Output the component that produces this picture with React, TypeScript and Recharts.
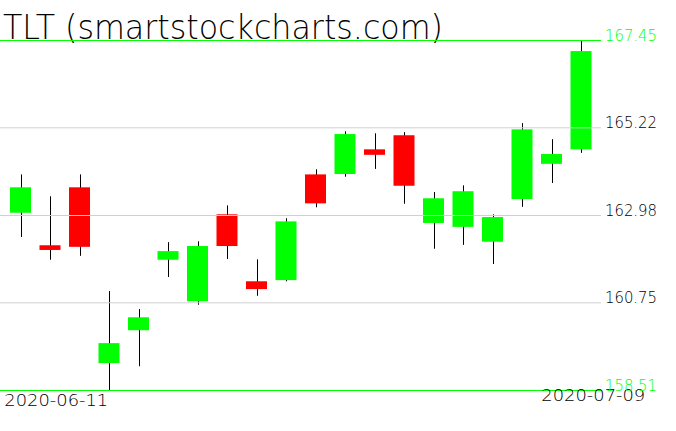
import { ComposedChart, Bar, XAxis, YAxis, ReferenceLine } from 'recharts';

// TLT daily candles, 2020-06-11 .. 2020-07-09
const dates = [
  '2020-06-11', '2020-06-12', '2020-06-15', '2020-06-16', '2020-06-17',
  '2020-06-18', '2020-06-19', '2020-06-22', '2020-06-23', '2020-06-24',
  '2020-06-25', '2020-06-26', '2020-06-29', '2020-06-30', '2020-07-01',
  '2020-07-02', '2020-07-06', '2020-07-07', '2020-07-08', '2020-07-09',
];
const opens = [163.05, 162.22, 163.70, 159.21, 160.05, 161.85, 160.79, 163.01, 161.30, 161.33,
  164.03, 164.04, 164.67, 165.03, 162.79, 162.69, 162.31, 163.40, 164.30, 164.67];
const highs = [164.03, 163.47, 164.03, 161.05, 160.59, 162.30, 162.32, 163.24, 161.86, 162.91,
  164.16, 165.13, 165.08, 165.11, 163.58, 163.75, 163.01, 165.34, 164.93, 167.45];
const lows = [162.43, 161.85, 161.95, 158.51, 159.13, 161.41, 160.70, 161.87, 160.93, 161.30,
  163.19, 163.97, 164.17, 163.28, 162.13, 162.23, 161.74, 163.20, 163.81, 164.58];
const closes = [163.70, 162.10, 162.18, 159.72, 160.38, 162.07, 162.20, 162.20, 161.10, 162.83,
  163.29, 165.06, 164.53, 163.74, 163.42, 163.60, 162.94, 165.18, 164.55, 167.18];

const yTicks = [158.51, 160.75, 162.98, 165.22, 167.45];
const gridLevels = [160.75, 162.98, 165.22];

const data = dates.map((d, i) => ({
  date: d,
  open: opens[i],
  high: highs[i],
  low: lows[i],
  close: closes[i],
  range: [lows[i], highs[i]],
}));

const FONT = '"DejaVu Sans", sans-serif';
const GREEN = '#00ff00';
const RED = '#ff0000';

const Candle = (props: any) => {
  const { x, y, width, height, payload } = props;
  const top = Math.min(y, y + height);
  const h = Math.abs(height);
  const { open, high, low, close } = payload;
  const k = h / (high - low);
  const yOf = (v: number) => top + (high - v) * k;
  const cx = Math.round(x + width / 2) + 0.5;
  const bodyTop = yOf(Math.max(open, close));
  const bodyBot = yOf(Math.min(open, close));
  return (
    <g>
      <line x1={cx} x2={cx} y1={yOf(high)} y2={yOf(low)} stroke="#000" strokeWidth={1} />
      <rect
        x={x}
        y={bodyTop}
        width={width}
        height={Math.max(bodyBot - bodyTop, 1)}
        fill={close >= open ? GREEN : RED}
      />
    </g>
  );
};

const PriceTick = (props: any) => {
  const { x, y, payload } = props;
  const v = payload.value;
  const edge = v === yTicks[0] || v === yTicks[yTicks.length - 1];
  return (
    <text
      x={x - 4}
      y={y}
      fill={edge ? GREEN : '#000'}
      fontFamily={FONT}
      fontWeight={200}
      fontSize={16}
      textLength={52}
      lengthAdjust="spacingAndGlyphs"
      textAnchor="start"
    >
      {v.toFixed(2)}
    </text>
  );
};

const DateTick = (props: any) => {
  const { x, payload, index } = props;
  const first = index === 0;
  return (
    <text
      x={first ? x - 16.5 : x + 64}
      y={first ? 406 : 401}
      fill="#000"
      fontFamily={FONT}
      fontWeight={200}
      fontSize={15}
      textLength={104}
      lengthAdjust="spacingAndGlyphs"
      textAnchor={first ? 'start' : 'end'}
    >
      {payload.value}
    </text>
  );
};

export default function App() {
  return (
    <div style={{ position: 'absolute', left: 0, top: 0, width: 676, height: 431, background: '#fff' }}>
      <style>{'body{margin:0}'}</style>
      <ComposedChart
        width={676}
        height={431}
        data={data}
        margin={{ top: 40.5, right: 0, bottom: 0, left: 0 }}
      >
        <XAxis
          dataKey="date"
          padding={{ left: 6, right: 5 }}
          ticks={[dates[0], dates[dates.length - 1]]}
          interval={0}
          axisLine={false}
          tickLine={false}
          tick={<DateTick />}
          height={40.5}
        />
        <YAxis
          orientation="right"
          domain={[yTicks[0], yTicks[yTicks.length - 1]]}
          ticks={yTicks}
          width={75}
          axisLine={false}
          tickLine={false}
          tick={<PriceTick />}
          allowDataOverflow
        />
        {gridLevels.map((g) => (
          <ReferenceLine key={g} y={g} stroke="#d0d0d0" strokeWidth={1} />
        ))}
        <ReferenceLine y={yTicks[0]} stroke={GREEN} strokeWidth={1} />
        <ReferenceLine y={yTicks[yTicks.length - 1]} stroke={GREEN} strokeWidth={1} />
        <Bar dataKey="range" barSize={21} shape={<Candle />} isAnimationActive={false} />
        <text
          x={3}
          y={39}
          fontFamily={FONT}
          fontWeight={200}
          fontSize={33}
          textLength={440}
          lengthAdjust="spacingAndGlyphs"
          fill="#000"
        >
          TLT (smartstockcharts.com)
        </text>
      </ComposedChart>
    </div>
  );
}
